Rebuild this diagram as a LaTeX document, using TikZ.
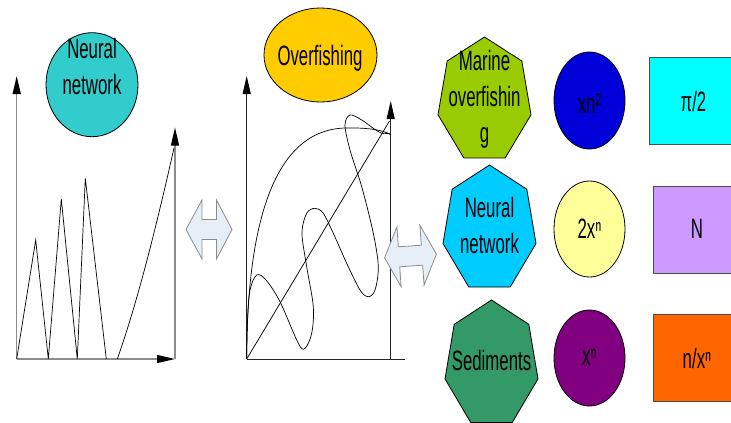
\documentclass[tikz,border=0pt]{standalone}
\usepackage{fontspec}
\setmainfont{Liberation Sans}[FakeStretch=0.6]
\usetikzlibrary{arrows.meta,shapes.geometric}

\definecolor{tealfill}{HTML}{33CCCC}
\definecolor{goldfill}{HTML}{FFCC00}
\definecolor{limefill}{HTML}{99CC00}
\definecolor{skyfill}{HTML}{00CCFF}
\definecolor{seafill}{HTML}{339966}
\definecolor{bluefill}{HTML}{0000D8}
\definecolor{creamfill}{HTML}{FFFF99}
\definecolor{plumfill}{HTML}{800080}
\definecolor{cyanfill}{HTML}{00FFFF}
\definecolor{lilacfill}{HTML}{CC99FF}
\definecolor{orangefill}{HTML}{FF6600}
\definecolor{arrowfill}{HTML}{E6EEF8}

\begin{document}
\begin{tikzpicture}[x=1pt,y=-1pt,
  lbl/.style={font=\fontsize{28}{36}\selectfont, align=center, inner sep=0pt},
  blob/.style={ellipse, draw=black, line width=0.8pt, inner sep=0pt},
  card/.style={rectangle, draw=black!70, line width=0.8pt, inner sep=0pt,
    minimum width=88pt, minimum height=87pt},
  hept/.style={draw=black, line width=0.8pt},
  tip/.style={-{Triangle[length=18pt,width=8pt,color=black]}},
  grayaxis/.style={draw=black!45, line width=1.4pt},
  thinaxis/.style={draw=black!85, line width=0.8pt},
  curve/.style={draw=black, line width=0.7pt},
  twoway/.style={draw=black!45, line width=0.8pt, fill=arrowfill, line join=miter}
]
\useasboundingbox (0,0) rectangle (731,423);

% ---------- left chart ----------
\coordinate (lo) at (16.7,359);
\coordinate (ly) at (16.7,76);
\coordinate (lx) at (175,359);
\coordinate (lr) at (175,127.5);
\draw[grayaxis,tip] (lo) -- (ly);
\draw[grayaxis,tip] (lo) -- (lx);
\draw[grayaxis,tip] (lx) -- (lr);
\draw[curve] (lo) -- (35.7,240) -- (48.3,359) -- (61.3,199) -- (77.3,359)
  -- (85.3,178.3) -- (106.3,359);
\draw[curve] (117.3,359) .. controls (140,295) and (160,210) .. (174,148);

\node[blob, fill=tealfill, minimum width=92pt, minimum height=104pt] (nncirc) at (92,84.7) {};
\node[lbl] (nntext) at (92,66) {Neural\\network};

% ---------- left double arrow ----------
\draw[twoway] (186,229.5) -- (202,200) -- (202,219.5) -- (216.5,219.5) -- (216.5,200)
  -- (232,229.5) -- (216.5,259) -- (216.5,239.5) -- (202,239.5) -- (202,259) -- cycle;

% ---------- middle chart ----------
\coordinate (mo) at (246.7,359);
\coordinate (my) at (246.7,76);
\coordinate (mx) at (405,359);
\coordinate (mv) at (390.7,359);
\coordinate (mr) at (390.7,101);
\draw[thinaxis,tip] (mo) -- (my);
\draw[thinaxis] (mo) -- (mx);
\draw[thinaxis,tip] (mv) -- (mr);
\draw[curve] (mo) -- (389.5,121);
\draw[curve] (mo) .. controls (247,220) and (275,130) .. (345,128)
  .. controls (368,127.5) and (384,130) .. (391,135);
\draw[curve] plot[smooth, tension=0.55] coordinates {
  (246.7,359) (247.5,320) (250,290) (256.7,275) (266,280) (280,301.7) (298.3,343.3)
  (305,348.3) (311.7,333.3) (313.3,306.7) (306.7,266.7) (302,233.3) (306.7,213.3)
  (315,208.3) (323.3,213.3) (333.3,233.3) (346.7,263.3) (360,290) (368.3,296.7)
  (375,290) (378.3,266.7) (373.3,233.3) (361.7,186.7) (350,150) (345,125)
  (350,115) (361.7,120) (373.3,128.3) (381.7,133.3) (390,133.3)};

\node[blob, fill=goldfill, minimum width=113pt, minimum height=94pt] (ofcirc) at (320.5,55) {};
\node[lbl] (oftext) at (320,58) {Overfishing};

% ---------- right double arrow (slightly tilted) ----------
\begin{scope}[shift={(410.5,256)}, rotate=4]
\draw[twoway] (-26,0) -- (-11.5,-30) -- (-11.5,-10) -- (11.5,-10) -- (11.5,-30)
  -- (26,0) -- (11.5,30) -- (11.5,10) -- (-11.5,10) -- (-11.5,30) -- cycle;
\end{scope}

% ---------- heptagons ----------
\begin{scope}[shift={(484.5,100.6)}, xscale=47.7, yscale=63.6]
\draw[hept, fill=limefill] (0,-1) -- (-0.782,-0.623) -- (-0.975,0.223) -- (-0.434,0.901)
  -- (0.434,0.901) -- (0.975,0.223) -- (0.782,-0.623) -- cycle;
\end{scope}
\node[lbl] (mofish) at (484.5,99) {Marine\\overfishin\\g};

\begin{scope}[shift={(489.5,229.2)}, xscale=47.7, yscale=64.2]
\draw[hept, fill=skyfill] (0,-1) -- (-0.782,-0.623) -- (-0.975,0.223) -- (-0.434,0.901)
  -- (0.434,0.901) -- (0.975,0.223) -- (0.782,-0.623) -- cycle;
\end{scope}
\node[lbl] (nnhept) at (489.5,225) {Neural\\network};

\begin{scope}[shift={(491.5,364.5)}, xscale=47.7, yscale=64.5]
\draw[hept, fill=seafill] (0,-1) -- (-0.782,-0.623) -- (-0.975,0.223) -- (-0.434,0.901)
  -- (0.434,0.901) -- (0.975,0.223) -- (0.782,-0.623) -- cycle;
\end{scope}
\node[lbl] (sedi) at (491.5,360) {Sediments};

% ---------- circles ----------
\node[blob, fill=bluefill, minimum width=71pt, minimum height=97pt] (c1) at (589.5,100.5) {};
\node[lbl] (c1t) at (589.5,103.5) {xn²};
\node[blob, fill=creamfill, minimum width=71pt, minimum height=96pt] (c2) at (589.5,229) {};
\node[lbl] (c2t) at (589.5,229) {2xⁿ};
\node[blob, fill=plumfill, minimum width=71pt, minimum height=96pt] (c3) at (589.5,358) {};
\node[lbl] (c3t) at (589.5,357) {xⁿ};

% ---------- cards ----------
\node[card, fill=cyanfill] (r1) at (693,100.5) {};
\node[lbl] (r1t) at (693.5,101) {π/2};
\node[card, fill=lilacfill] (r2) at (697,229.5) {};
\node[lbl] (r2t) at (697,229) {N};
\node[card, fill=orangefill] (r3) at (697,358) {};
\node[lbl] (r3t) at (697,358) {n/xⁿ};

\end{tikzpicture}
\end{document}
